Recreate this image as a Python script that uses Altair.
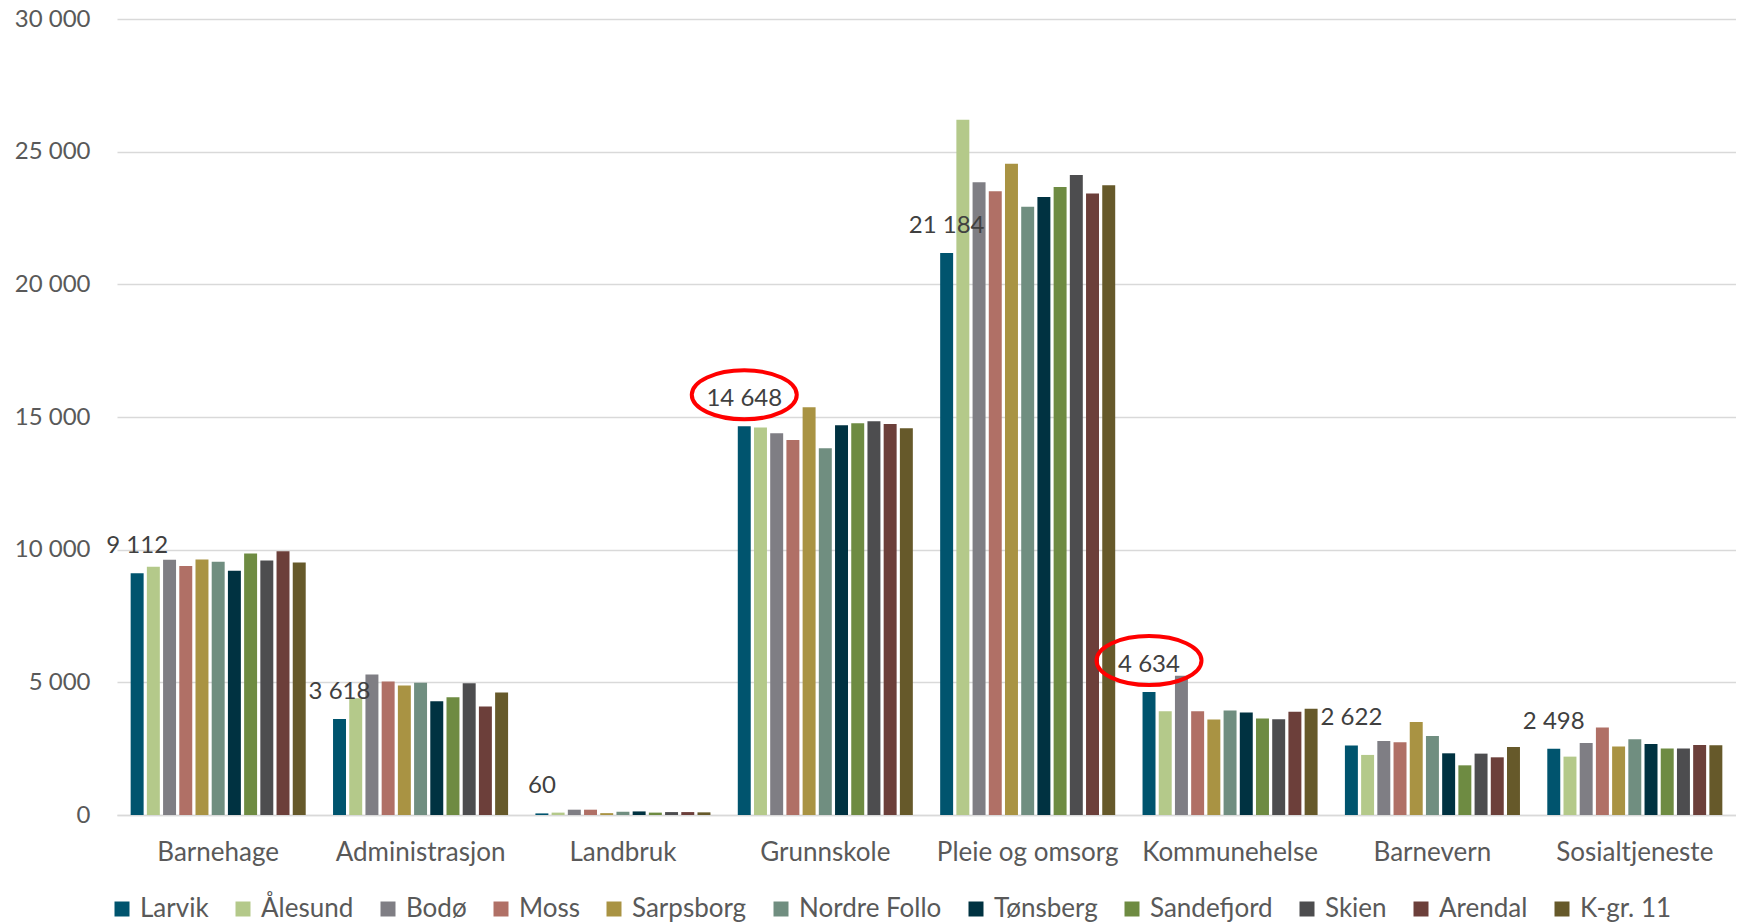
import altair as alt
import pandas as pd

categories = ["Barnehage", "Administrasjon", "Landbruk", "Grunnskole",
              "Pleie og omsorg", "Kommunehelse", "Barnevern", "Sosialtjeneste"]

series = ["Larvik", "Ålesund", "Bodø", "Moss", "Sarpsborg", "Nordre Follo",
          "Tønsberg", "Sandefjord", "Skien", "Arendal", "K-gr. 11"]

colors = ["#00546E", "#B4C98A", "#7F7E84", "#B07066", "#A99343", "#708E80",
          "#003241", "#6E8B42", "#4D4D4F", "#6C3F3A", "#66592A"]

larvik = [9112, 3618, 60, 14648, 21184, 4634, 2622, 2498]
alesund = [9358, 4400, 90, 14604, 26200, 3910, 2264, 2200]
bodo = [9623, 5294, 200, 14389, 23849, 5245, 2792, 2717]
moss = [9381, 5030, 200, 14136, 23509, 3910, 2740, 3294]
sarpsborg = [9634, 4879, 70, 15370, 24540, 3597, 3509, 2577]
nordre_follo = [9547, 4981, 125, 13823, 22928, 3937, 2981, 2853]
tonsberg = [9208, 4287, 135, 14691, 23294, 3861, 2325, 2679]
sandefjord = [9860, 4438, 90, 14766, 23672, 3635, 1872, 2502]
skien = [9596, 4966, 110, 14842, 24125, 3609, 2313, 2502]
arendal = [9936, 4087, 110, 14740, 23419, 3887, 2174, 2642]
kgr11 = [9521, 4615, 100, 14577, 23736, 4000, 2566, 2630]

all_values = [larvik, alesund, bodo, moss, sarpsborg, nordre_follo,
              tonsberg, sandefjord, skien, arendal, kgr11]

labelled_series = "Larvik"
highlighted = ["Grunnskole", "Kommunehelse"]

y_ticks = [0, 5000, 10000, 15000, 20000, 25000, 30000]

rows = []
for s, vals in zip(series, all_values):
    for c, v in zip(categories, vals):
        rows.append({"kategori": c, "kommune": s, "verdi": v,
                     "etikett": f"{v:,}".replace(",", " ")})
df = pd.DataFrame(rows)

FONT = "Lato"

x_enc = alt.X("kategori:N", sort=categories,
              scale=alt.Scale(paddingInner=0.135, paddingOuter=0.0675),
              axis=alt.Axis(title=None, labelAngle=0, labelFontSize=26,
                            labelFont=FONT, labelColor="#595959",
                            labelLimit=400, labelOverlap=False,
                            ticks=False, tickSize=0, labelPadding=24,
                            domainColor="#D9D9D9", domainWidth=1.5))
xoff_enc = alt.XOffset("kommune:N", sort=series,
                       scale=alt.Scale(domain=series, paddingInner=0.2, paddingOuter=0))
y_enc = alt.Y("verdi:Q",
              scale=alt.Scale(domain=[0, 30000], nice=False),
              axis=alt.Axis(title=None, values=y_ticks, domain=False, ticks=False,
                            tickSize=0, labelPadding=27, labelFontSize=24,
                            labelFont=FONT, labelColor="#595959",
                            gridColor="#D9D9D9", gridWidth=1.5,
                            labelExpr="replace(format(datum.value, ','), regexp(',', 'g'), ' ')"))

bars = alt.Chart(df).mark_bar().encode(
    x=x_enc,
    xOffset=xoff_enc,
    y=y_enc,
    color=alt.Color("kommune:N", sort=series,
                    scale=alt.Scale(domain=series, range=colors),
                    legend=alt.Legend(title=None, orient="none", direction="horizontal",
                                      columns=11, legendX=-8, legendY=877,
                                      symbolType="square", symbolSize=225,
                                      symbolStrokeWidth=0, labelFontSize=26,
                                      labelFont=FONT, labelColor="#595959",
                                      labelOffset=5, columnPadding=21,
                                      labelLimit=400, padding=0)),
)

labels = alt.Chart(df).transform_filter(
    alt.datum.kommune == labelled_series
).mark_text(dy=-20, baseline="alphabetic", fontSize=24, font=FONT,
            color="#404040").encode(
    x=alt.X("kategori:N", sort=categories),
    xOffset=alt.XOffset("kommune:N", sort=series),
    y="verdi:Q",
    text="etikett:N",
)

ellipse_path = "M -1 0 A 1 0.467 0 1 1 1 0 A 1 0.467 0 1 1 -1 0 Z"
rings = alt.Chart(df).transform_filter(
    alt.datum.kommune == labelled_series
).transform_filter(
    alt.FieldOneOfPredicate(field="kategori", oneOf=highlighted)
).mark_point(shape=ellipse_path, size=11025, filled=False, color="#FF0000",
             strokeWidth=4, opacity=1, yOffset=-31.5).encode(
    x=alt.X("kategori:N", sort=categories),
    xOffset=alt.XOffset("kommune:N", sort=series),
    y="verdi:Q",
)

chart = alt.layer(bars, labels, rings).properties(
    width=1619, height=796,
    autosize=alt.AutoSizeParams(type="none"),
    padding={"left": 109, "top": 11, "right": 0, "bottom": 109},
).configure(
    font=FONT, background="white", view=alt.ViewConfig(stroke=None)
)

chart.save("out.html", embed_options={"renderer": "svg", "actions": False})
